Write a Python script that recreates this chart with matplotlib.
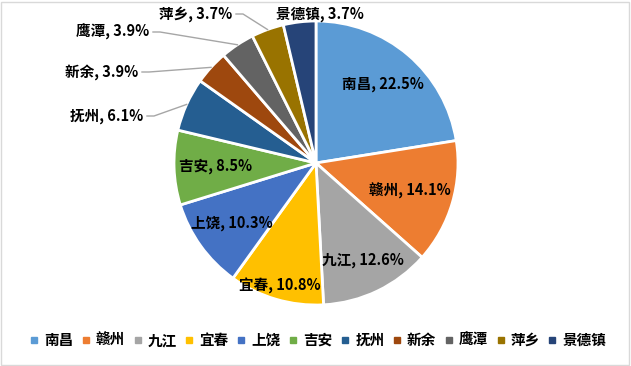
import numpy as np
import matplotlib.pyplot as plt
from matplotlib.lines import Line2D
from matplotlib.patches import Rectangle

plt.rcParams['font.family'] = ['Noto Sans CJK SC', 'DejaVu Sans']

cities = ['南昌', '赣州', '九江', '宜春', '上饶', '吉安', '抚州', '新余', '鹰潭', '萍乡', '景德镇']
shares = [22.5, 14.1, 12.6, 10.8, 10.3, 8.5, 6.1, 3.9, 3.9, 3.7, 3.7]
colors = ['#5B9BD5', '#ED7D31', '#A5A5A5', '#FFC000', '#4472C4', '#70AD47',
          '#255E91', '#9E480E', '#636363', '#997300', '#264478']

W, H = 631, 366
CX, CY, R = 316, 163, 142

# label radius (fraction of R) for labels drawn inside the slices
inside_r = {'南昌': 0.73, '赣州': 0.69, '九江': 0.76, '宜春': 0.90, '上饶': 0.73, '吉安': 0.71}
# outside labels: (x, y, ha) in pixels
outside = {'抚州': (143, 116, 'right'), '新余': (138, 72, 'right'), '鹰潭': (149, 32, 'right'),
           '萍乡': (232, 14, 'right'), '景德镇': (320, 14, 'center')}

fig = plt.figure(figsize=(W / 100, H / 100), dpi=100)
ax = fig.add_axes([0, 0, 1, 1])

def fy(y):
    return H - y

wedges, _ = ax.pie(shares, colors=colors, startangle=90, counterclock=False,
                   center=(CX, fy(CY)), radius=R, frame=True,
                   wedgeprops=dict(edgecolor='white', linewidth=2))
ax.set_xlim(0, W)
ax.set_ylim(0, H)
ax.set_aspect('equal')
ax.axis('off')

for w, name, v in zip(wedges, cities, shares):
    mid = np.deg2rad((w.theta1 + w.theta2) / 2)
    label = f'{name}, {v}%'
    if name in inside_r:
        rr = inside_r[name] * R
        ax.text(CX + rr * np.cos(mid), fy(CY) + rr * np.sin(mid), label,
                ha='center', va='center', fontsize=10.5, fontweight='bold', color='black')
    else:
        tx, ty, ha = outside[name]
        ax.text(tx, fy(ty), label, ha=ha, va='center', fontsize=10.5,
                fontweight='bold', color='black')
        px, py = CX + R * np.cos(mid), fy(CY) + R * np.sin(mid)
        if ha == 'right':
            ax.plot([tx + 4, tx + 11, px], [fy(ty), fy(ty), py], color='#A6A6A6', lw=1)

handles = [Line2D([], [], marker='s', ls='', color=c, markersize=5) for c in colors]
fig.legend(handles, cities, loc='center', bbox_to_anchor=(318 / W, 1 - 340 / H), ncol=11,
           frameon=False, handlelength=0.6, handletextpad=0.4, columnspacing=0.55,
           prop=dict(size=10.5, weight='bold'))

fig.patches.append(Rectangle((0.002, 0.004), 0.995, 0.99, transform=fig.transFigure,
                             fill=False, edgecolor='#D9D9D9', lw=1))

fig.savefig('out.png', dpi=100)
